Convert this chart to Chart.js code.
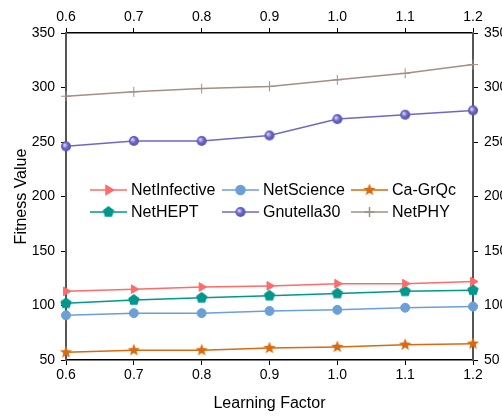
<!DOCTYPE html>
<html>
<head>
<meta charset="utf-8">
<script src="https://cdn.jsdelivr.net/npm/chart.js@4.4.0/dist/chart.umd.min.js"></script>
<style>
html, body { margin: 0; padding: 0; background: #fff; overflow: hidden; }
</style>
</head>
<body>
<canvas id="grafico" width="502" height="417"></canvas>
<script>
// datos
const factores = ['0.6', '0.7', '0.8', '0.9', '1.0', '1.1', '1.2'];
const netInfective = [113, 115, 117, 118, 120, 120, 122];
const netScience = [91, 93, 93, 95, 96, 98, 99];
const caGrQc = [57, 59, 59, 61, 62, 64, 65];
const netHEPT = [102, 105, 107, 109, 111, 113, 114];
const gnutella30 = [246, 251, 251, 256, 271, 275, 279];
const netPHY = [292, 296, 299, 301, 307, 313, 321];
const ticksY = [50, 100, 150, 200, 250, 300, 350];

const fuente = 'Liberation Sans, Arial, sans-serif';

// marcadores que Chart.js no trae
function marcador(tipo, color) {
    const c = document.createElement('canvas');
    c.width = 14; c.height = 14;
    const g = c.getContext('2d');
    const cx = 7, cy = 7;
    g.beginPath();
    if (tipo === 'pentagono') {
        for (let k = 0; k < 5; k++) {
            const a = -Math.PI / 2 + k * 2 * Math.PI / 5;
            g.lineTo(cx + 6 * Math.cos(a), cy + 6 * Math.sin(a));
        }
        g.closePath();
        g.fillStyle = color;
        g.fill();
    } else if (tipo === 'estrella') {
        for (let k = 0; k < 10; k++) {
            const r = k % 2 === 0 ? 6.5 : 2.8;
            const a = -Math.PI / 2 + k * Math.PI / 5;
            g.lineTo(cx + r * Math.cos(a), cy + r * Math.sin(a));
        }
        g.closePath();
        g.fillStyle = color;
        g.fill();
    } else {
        const grad = g.createRadialGradient(cx - 1.5, cy - 1.5, 0.5, cx, cy, 5.5);
        grad.addColorStop(0, '#d8d6f4');
        grad.addColorStop(0.45, color);
        grad.addColorStop(1, '#4f4ba8');
        g.arc(cx, cy, 5, 0, Math.PI * 2);
        g.fillStyle = grad;
        g.fill();
    }
    return c;
}

function serie(nombre, datos, color, estilo, radio, extra) {
    return Object.assign({
        label: nombre,
        data: datos,
        borderColor: color,
        backgroundColor: color,
        pointBackgroundColor: color,
        pointBorderColor: color,
        borderWidth: 1.5,
        pointStyle: estilo,
        pointRadius: radio,
        pointBorderWidth: 1,
        tension: 0
    }, extra || {});
}

const datasets = [
    serie('NetInfective', netInfective, '#ff6b6b', 'triangle', 5, { rotation: 90 }),
    serie('NetScience', netScience, '#6b9fd8', 'circle', 4.5),
    serie('Ca-GrQc', caGrQc, '#d96a10', marcador('estrella', '#d96a10'), 6),
    serie('NetHEPT', netHEPT, '#00978d', marcador('pentagono', '#00978d'), 6),
    serie('Gnutella30', gnutella30, '#6d68c8', marcador('esfera', '#6d68c8'), 5),
    serie('NetPHY', netPHY, '#a38f84', 'cross', 5)
];

// leyenda dentro del area del grafico, 3 columnas
const leyenda = {
    id: 'leyenda',
    afterDatasetsDraw(chart) {
        const ctx = chart.ctx;
        const columnas = [90, 222, 351];
        const filas = [190, 212];
        ctx.save();
        chart.data.datasets.forEach((ds, i) => {
            const x0 = columnas[i % 3];
            const y = filas[Math.floor(i / 3)];
            ctx.strokeStyle = ds.borderColor;
            ctx.lineWidth = 1.5;
            ctx.beginPath();
            ctx.moveTo(x0, y);
            ctx.lineTo(x0 + 37, y);
            ctx.stroke();
            ctx.fillStyle = ds.pointBackgroundColor;
            ctx.strokeStyle = ds.pointBorderColor;
            Chart.helpers.drawPoint(ctx, {
                pointStyle: ds.pointStyle,
                rotation: ds.rotation || 0,
                radius: ds.pointRadius,
                borderWidth: 1
            }, x0 + 18.5, y);
            ctx.fillStyle = '#000';
            ctx.font = '16px ' + fuente;
            ctx.textBaseline = 'middle';
            ctx.textAlign = 'left';
            ctx.fillText(ds.label, x0 + 41, y + 1);
        });
        ctx.restore();
    }
};

function ejeX(posicion, alto, titulo) {
    return {
        type: 'category',
        position: posicion,
        labels: factores,
        offset: false,
        grid: { display: true, drawOnChartArea: false, drawTicks: true, tickLength: 5, color: '#000', lineWidth: 1 },
        border: { display: true, color: '#000', width: 1.5 },
        ticks: { color: '#000', font: { family: fuente, size: 14 }, padding: 2, maxRotation: 0, autoSkip: false },
        title: { display: !!titulo, text: titulo || '', color: '#000', font: { family: fuente, size: 16 }, padding: { top: 4, bottom: 4 } },
        afterFit: s => { s.height = alto; }
    };
}

function ejeY(posicion, ancho, titulo) {
    return {
        type: 'linear',
        position: posicion,
        min: 50,
        max: 350,
        afterBuildTicks: s => { s.ticks = ticksY.map(v => ({ value: v })); },
        grid: { display: true, drawOnChartArea: false, drawTicks: true, tickLength: 5, color: '#000', lineWidth: 1 },
        border: { display: true, color: '#555', width: 2 },
        ticks: { color: '#000', font: { family: fuente, size: 14 }, padding: 6 },
        title: { display: !!titulo, text: titulo || '', color: '#000', font: { family: fuente, size: 16 }, padding: { top: 12, bottom: 4 } },
        afterFit: s => { s.width = ancho; }
    };
}

const ctx = document.getElementById('grafico').getContext('2d');
new Chart(ctx, {
    type: 'line',
    data: { labels: factores, datasets: datasets },
    options: {
        responsive: false,
        animation: false,
        layout: { padding: 0 },
        plugins: { legend: { display: false }, tooltip: { enabled: false } },
        scales: {
            x: ejeX('bottom', 57, 'Learning Factor'),
            x2: ejeX('top', 33),
            y: ejeY('left', 66, 'Fitness Value'),
            y2: ejeY('right', 29)
        }
    },
    plugins: [leyenda]
});
</script>
</body>
</html>
